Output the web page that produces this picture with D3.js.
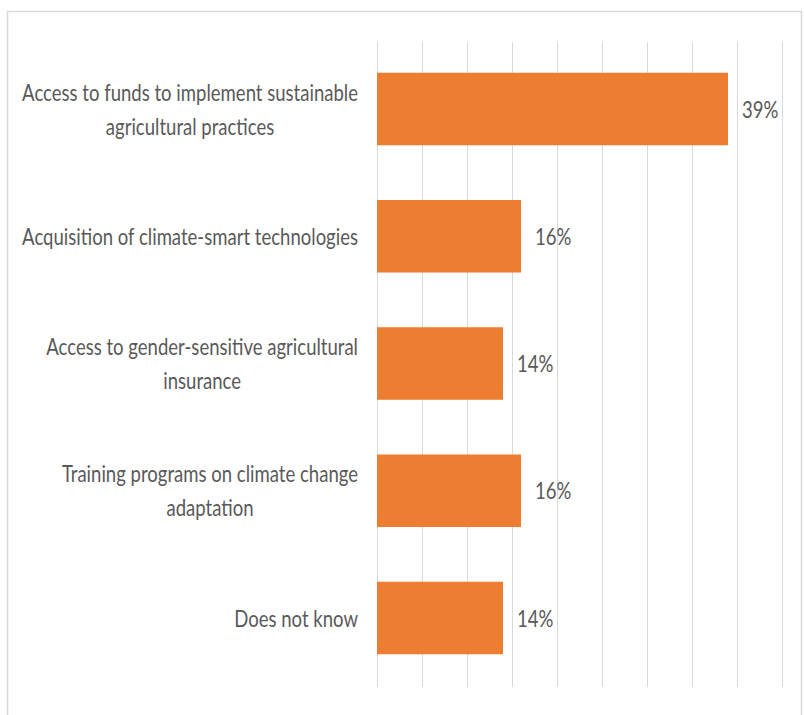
<!DOCTYPE html>
<html>
<head>
<meta charset="utf-8">
<script src="https://cdn.jsdelivr.net/npm/d3@7"></script>
<style>
  body { margin: 0; background: #fff; }
  text { font-family: Lato, "Open Sans", sans-serif; fill: #595959; }
</style>
</head>
<body>
<div id="chartContent"></div>
<script>
// categories and values
var categories = [
    "Access to funds to implement sustainable|agricultural practices",
    "Acquisition of climate-smart technologies",
    "Access to gender-sensitive agricultural|insurance",
    "Training programs on climate change|adaptation",
    "Does not know"
]
var values = [0.39, 0.16, 0.14, 0.16, 0.14]
var valueLabels = ["39%", "16%", "14%", "16%", "14%"]
var xTicks = [0, 0.05, 0.10, 0.15, 0.20, 0.25, 0.30, 0.35, 0.40, 0.45]

var width = 804, height = 715
var fontSize = 24

var svg = d3.select("#chartContent")
    .append("svg")
    .attr("width", width)
    .attr("height", height)

//outer frame
svg.append("rect")
    .attr("x", 7.5).attr("y", 11.5)
    .attr("width", 794).attr("height", 720)
    .attr("fill", "none")
    .attr("stroke", "#d9d9d9")
    .attr("stroke-width", 1.5)

var xScale = d3.scaleLinear()
    .domain([0, 0.45])
    .range([377, 782])

var yScale = d3.scaleBand()
    .domain(categories)
    .range([45, 682])
    .paddingInner(0.43)
    .paddingOuter(0.218)

//gridlines
svg.selectAll(".grid")
    .data(xTicks)
    .enter()
    .append("line")
    .attr("x1", d => Math.round(xScale(d)) + 0.5)
    .attr("x2", d => Math.round(xScale(d)) + 0.5)
    .attr("y1", 42)
    .attr("y2", 687)
    .attr("stroke", "#d9d9d9")
    .attr("stroke-width", 1)

//bars
svg.selectAll(".bar")
    .data(categories)
    .enter()
    .append("rect")
    .attr("x", xScale(0))
    .attr("y", d => yScale(d))
    .attr("width", (d, i) => xScale(values[i]) - xScale(0))
    .attr("height", yScale.bandwidth())
    .attr("fill", "#ED7D31")

//the reference font is condensed, so squeeze text horizontally
//so the longest first line is about 336px wide
var probe = svg.append("text").attr("font-size", fontSize)
    .text("Access to funds to implement sustainable")
var sx = 336 / probe.node().getComputedTextLength()
probe.remove()

//value labels
categories.forEach((c, i) => {
    svg.append("g")
        .attr("transform", `translate(${xScale(values[i]) + 14},${yScale(c) + yScale.bandwidth() / 2}) scale(${sx},1)`)
        .append("text")
        .attr("dy", "0.36em")
        .attr("font-size", fontSize)
        .text(valueLabels[i])
})

//category labels, multi-line ones centred on each other
var lineHeight = 34
categories.forEach(c => {
    var lines = c.split("|")
    var cy = yScale(c) + yScale.bandwidth() / 2
    var y0 = cy - (lines.length - 1) * lineHeight / 2
    var g = svg.append("g")
        .attr("transform", `translate(358,0) scale(${sx},1)`)
    var t = g.append("text")
        .attr("font-size", fontSize)
        .attr("text-anchor", "middle")
    lines.forEach((l, j) => {
        t.append("tspan")
            .attr("y", y0 + j * lineHeight)
            .attr("dy", "0.36em")
            .text(l)
    })
    var maxW = d3.max(t.selectAll("tspan").nodes(), n => n.getComputedTextLength())
    t.selectAll("tspan").attr("x", -maxW / 2)
})
</script>
</body>
</html>
